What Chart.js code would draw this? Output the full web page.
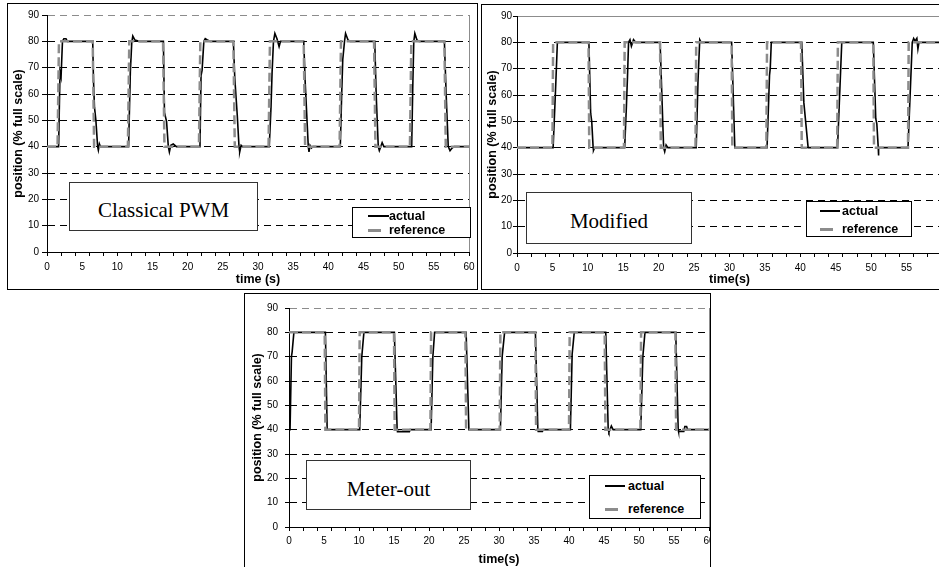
<!DOCTYPE html>
<html>
<head>
<meta charset="utf-8">
<script src="https://cdn.jsdelivr.net/npm/chart.js@4.4.1/dist/chart.umd.min.js"></script>
<style>
  body { margin: 0; width: 939px; height: 567px; overflow: hidden; background: #fff; position: relative;
         font-family: "Liberation Sans", Arial, sans-serif; }
  .frame { position: absolute; border: 1.5px solid #000; box-sizing: border-box; background: #fff; z-index: 0; }
  canvas { position: absolute; z-index: 1; }
  .note { position: absolute; z-index: 2; box-sizing: border-box; border: 1.5px solid #333; background: #fff;
          font-family: "Liberation Serif", "Times New Roman", serif; font-size: 21px; color: #000;
          display: flex; align-items: center; justify-content: center; }
  .legend { position: absolute; z-index: 2; box-sizing: border-box; border: 1px solid #000; background: #fff;
            font-weight: bold; font-size: 12.5px; color: #000; }
  .legend span { position: absolute; transform: translateY(-50%); line-height: 1; white-space: nowrap; }
  .legend i { position: absolute; display: block; }
  .act { background: #000; height: 2px; }
  .ref { background: #8c8c8c; height: 2.5px; }
</style>
</head>
<body>
<div class="frame" style="left:7px;top:3px;width:471px;height:287px"></div>
<div class="frame" style="left:481px;top:4px;width:480px;height:286px"></div>
<div class="frame" style="left:244px;top:293px;width:467px;height:290px"></div>

<canvas id="chartPwm" width="468" height="284" style="left:9px;top:5px"></canvas>
<canvas id="chartMod" width="470" height="283" style="left:483px;top:7px"></canvas>
<canvas id="chartMtr" width="464" height="272" style="left:246px;top:295px"></canvas>

<div class="note" style="left:69px;top:182px;width:189px;height:49px;padding-top:8px">Classical PWM</div>
<div class="note" style="left:526px;top:192px;width:166px;height:52px;padding-top:7px">Modified</div>
<div class="note" style="left:306px;top:460px;width:165px;height:50px;padding-top:8px">Meter-out</div>

<div class="legend" style="left:352px;top:207px;width:119px;height:31px">
  <i class="act" style="left:15px;top:7px;width:21px"></i><span style="left:36px;top:8px">actual</span>
  <i class="ref" style="left:15px;top:21px;width:13px"></i><span style="left:36px;top:22px">reference</span>
</div>
<div class="legend" style="left:806px;top:201px;width:106px;height:36px">
  <i class="act" style="left:13px;top:8px;width:20px"></i><span style="left:35px;top:9px">actual</span>
  <i class="ref" style="left:13px;top:26px;width:13px"></i><span style="left:35px;top:27px">reference</span>
</div>
<div class="legend" style="left:589px;top:475px;width:112px;height:44px">
  <i class="act" style="left:15px;top:9px;width:20px"></i><span style="left:38px;top:10px">actual</span>
  <i class="ref" style="left:15px;top:32px;width:13px"></i><span style="left:38px;top:33px">reference</span>
</div>

<script>
// axis ticks
const timeLabels = [0, 5, 10, 15, 20, 25, 30, 35, 40, 45, 50, 55, 60];
const timeMinorTicks = [0, 2, 4, 6, 8, 10, 12, 14, 16, 18, 20, 22, 24, 26, 28, 30,
  32, 34, 36, 38, 40, 42, 44, 46, 48, 50, 52, 54, 56, 58, 60];
const positionTicks = [0, 10, 20, 30, 40, 50, 60, 70, 80, 90];

// Classical PWM
const pwmRefTime = [0, 1.5, 1.7, 6.5, 6.7, 11.5, 11.7, 16.5, 16.7, 21.6, 21.8, 26.5, 26.7,
  31.5, 31.7, 36.5, 36.7, 41.6, 41.8, 46.5, 46.7, 51.6, 51.8, 56.5, 56.7, 60];
const pwmRefPos = [40, 40, 80, 80, 40, 40, 80, 80, 40, 40, 80, 80, 40,
  40, 80, 80, 40, 40, 80, 80, 40, 40, 80, 80, 40, 40];
const pwmActTime = [0, 1.65, 1.85, 2.0, 2.2, 2.4, 2.7, 2.9, 6.5, 6.6, 6.75, 6.95, 7.2, 7.3, 7.45, 7.6,
  11.6, 11.85, 12.05, 12.2, 12.5, 13.1, 16.55, 16.7, 17.0, 17.25, 17.4, 17.6, 17.95, 18.4,
  21.75, 21.9, 22.05, 22.3, 22.5, 22.8, 23.2, 26.5, 26.7, 27.05, 27.3, 27.4, 27.6, 27.8,
  31.6, 31.85, 32.0, 32.2, 32.4, 32.7, 33.0, 33.2, 36.5, 36.7, 37.15, 37.25, 37.4, 37.6, 37.8,
  41.7, 41.9, 42.05, 42.3, 42.45, 42.8, 43.1, 46.6, 46.8, 47.1, 47.25, 47.45, 47.65, 47.9,
  51.85, 52.0, 52.15, 52.3, 52.6, 52.9, 56.5, 56.75, 57.05, 57.3, 57.6, 57.9, 60];
const pwmActPos = [40, 40, 68.5, 66.5, 80, 81, 81, 80, 80, 66, 55, 50, 40, 38.7, 41, 40,
  40, 68.5, 79.5, 82, 80.5, 80, 80, 53, 49.5, 40, 38, 40.5, 41, 40,
  40, 67, 69, 80, 81, 80.5, 80, 80, 66, 52, 40, 38, 40.5, 40,
  40, 55, 68, 80, 83, 81, 78, 80, 80, 65, 40, 38, 40.5, 39.5, 40,
  40, 60, 73, 80, 83, 80.5, 80, 80, 60, 40, 38.5, 40, 41.5, 40,
  40, 62, 80, 83, 80.5, 80, 80, 60, 40, 38.5, 39.5, 40, 40];

// Modified
const modRefTime = [0, 5.0, 5.1, 10.1, 10.2, 15.1, 15.2, 20.2, 20.3, 25.2, 25.3, 30.3, 30.4,
  35.2, 35.3, 40.1, 40.2, 45.2, 45.3, 50.3, 50.4, 55.2, 55.3, 60];
const modRefPos = [40, 40, 80, 80, 40, 40, 80, 80, 40, 40, 80, 80, 40,
  40, 80, 80, 40, 40, 80, 80, 40, 40, 80, 80];
const modActTime = [0, 5.1, 5.35, 5.5, 5.7, 10.15, 10.4, 10.55, 10.75, 10.8, 10.95,
  15.2, 15.45, 15.6, 15.75, 15.95, 16.15, 16.45, 16.75, 20.2, 20.45, 20.7, 20.85, 21.05, 21.3,
  25.3, 25.55, 25.8, 26.0, 30.3, 30.75,
  35.3, 35.65, 35.75, 35.9, 40.2, 40.5, 41.1,
  45.25, 45.85, 50.3, 50.65, 50.8, 51.0, 51.02, 51.08,
  55.2, 55.8, 56.0, 56.2, 56.45, 56.6, 56.75, 60];
const modActPos = [40, 40, 56, 66, 80, 80, 53, 50, 40, 39, 40,
  40, 56, 67, 80, 81, 78.5, 81, 80, 80, 60, 40, 38.5, 41, 40,
  40, 65, 81, 80, 80, 40,
  40, 67.5, 70, 80, 80, 57, 40,
  40, 80, 80, 51, 49, 40, 37, 40,
  40, 80, 81.5, 80.5, 81.5, 77.5, 80, 80];

// Meter-out
const mtrRefTime = [0, 5.1, 5.2, 10.0, 10.1, 15.0, 15.1, 20.2, 20.3, 25.2, 25.3, 30.1, 30.2,
  35.2, 35.3, 40.0, 40.1, 45.1, 45.2, 50.2, 50.3, 55.2, 55.3, 60];
const mtrRefPos = [80, 80, 40, 40, 80, 80, 40, 40, 80, 80, 40, 40, 80,
  80, 40, 40, 80, 80, 40, 40, 80, 80, 40, 40];
const mtrActTime = [0, 0.15, 0.35, 0.45, 0.7, 5.2, 5.45, 10.1, 10.4, 10.7, 15.05, 15.45, 15.5, 17.2, 17.3,
  20.3, 20.55, 20.8, 25.3, 25.7, 30.2, 30.45, 30.8, 35.2, 35.55, 35.6, 36.2, 36.3,
  40.2, 40.45, 40.75, 45.25, 45.6, 45.7, 45.85, 46.05, 46.3,
  50.25, 50.55, 50.85, 55.25, 55.6, 55.65, 56.4, 56.55, 56.8, 56.95, 60];
const mtrActPos = [40, 40, 70, 72, 80, 80, 40, 40, 70, 80, 80, 40, 39.2, 39.2, 40,
  40, 70, 80, 80, 40, 40, 70, 80, 80, 40, 39.3, 39.3, 40,
  40, 71, 80, 80, 40, 39, 40, 41.5, 40,
  40, 70, 80, 80, 40, 39.3, 39.3, 41.3, 41.3, 40, 40];

const FONT = '"Liberation Sans", Arial, sans-serif';
const tickFont = {family: FONT, size: 10};
const titleFont = {family: FONT, size: 12.5, weight: 'bold'};
const allTimeTicks = [...new Set([...timeMinorTicks, ...timeLabels])].sort((a, b) => a - b);

// thin grey edge on the right side of the plot area
const plotEdge = {
  id: 'plotEdge',
  afterDatasetsDraw(chart) {
    const {ctx, chartArea} = chart;
    const x = Math.round(chartArea.right) + 0.5;
    ctx.save();
    ctx.strokeStyle = '#8c8c8c';
    ctx.lineWidth = 1;
    ctx.beginPath();
    ctx.moveTo(x, chartArea.top);
    ctx.lineTo(x, chartArea.bottom);
    ctx.stroke();
    ctx.restore();
  }
};

function points(ts, ys) {
  return ts.map((t, i) => ({x: t, y: ys[i]}));
}

function drawChart(id, c) {
  new Chart(document.getElementById(id), {
    type: 'line',
    data: {
      datasets: [
        {
          label: 'reference',
          data: points(c.refT, c.refY),
          borderColor: '#8c8c8c',
          borderWidth: 2.5,
          borderDash: [9, 4],
          pointRadius: 0,
          tension: 0,
          order: 0,
        },
        {
          label: 'actual',
          data: points(c.actT, c.actY),
          borderColor: '#000',
          borderWidth: 1.6,
          pointRadius: 0,
          tension: 0,
          order: 1,
        },
      ]
    },
    options: {
      responsive: false,
      animation: false,
      events: [],
      layout: {padding: c.pad},
      plugins: {legend: {display: false}, tooltip: {enabled: false}},
      scales: {
        x: {
          type: 'linear',
          min: 0,
          max: 60,
          afterBuildTicks: s => { s.ticks = allTimeTicks.map(v => ({value: v})); },
          afterFit: s => { s.height = c.xH; s.paddingLeft = 0; s.paddingRight = 0; },
          ticks: {
            autoSkip: false, maxRotation: 0, padding: c.xTickPad, color: '#000', font: tickFont,
            callback: v => (timeLabels.includes(v) && v <= c.lastLabel) ? String(v) : ''
          },
          grid: {
            drawOnChartArea: false,
            tickLength: 4,
            tickWidth: 1,
            tickColor: ctx => (ctx.tick && timeMinorTicks.includes(ctx.tick.value)) ? '#000' : 'rgba(0,0,0,0)'
          },
          border: {color: '#000', width: 1},
          title: {display: true, text: c.xTitle, color: '#000', font: titleFont,
                  padding: {top: 0, bottom: c.xTitlePad}}
        },
        y: {
          min: 0,
          max: 90,
          afterBuildTicks: s => { s.ticks = positionTicks.map(v => ({value: v})); },
          afterFit: s => { s.width = c.yW; },
          ticks: {padding: c.yTickPad, color: '#000', font: tickFont},
          grid: {
            lineWidth: 1,
            color: ctx => {
              if (!ctx.tick || ctx.tick.value === 0) return 'rgba(0,0,0,0)';
              return ctx.tick.value === 90 ? '#8c8c8c' : '#000';
            },
            tickLength: c.yTickLen,
            tickColor: '#000',
            tickBorderDash: []
          },
          border: {
            color: '#000', width: 1,
            dash: ctx => (ctx.tick && ctx.tick.value === 90 && c.solidTop) ? [] : [7, 5]
          },
          title: {display: true, text: 'position (% full scale)', color: '#000', font: titleFont,
                  padding: {top: c.yTitlePad, bottom: 0}}
        }
      }
    },
    plugins: [plotEdge]
  });
}

drawChart('chartPwm', {
  refT: pwmRefTime, refY: pwmRefPos, actT: pwmActTime, actY: pwmActPos,
  pad: {top: 10, right: 8, left: 0, bottom: 0},
  xH: 37, yW: 38, xTickPad: 5.5, yTickPad: 3, yTickLen: 5, lastLabel: 60,
  xTitle: 'time (s)', xTitlePad: 2.2, yTitlePad: 2.5, solidTop: false
});
drawChart('chartMod', {
  refT: modRefTime, refY: modRefPos, actT: modActTime, actY: modActPos,
  pad: {top: 9, right: 11, left: 0, bottom: 0},
  xH: 37, yW: 34, xTickPad: 5.3, yTickPad: 1, yTickLen: 4, lastLabel: 55,
  xTitle: 'time(s)', xTitlePad: 2.5, yTitlePad: 2.5, solidTop: true
});
drawChart('chartMtr', {
  refT: mtrRefTime, refY: mtrRefPos, actT: mtrActTime, actY: mtrActPos,
  pad: {top: 9, right: 1, left: 0, bottom: 0},
  xH: 40, yW: 43, xTickPad: 4.7, yTickPad: 7, yTickLen: 4, lastLabel: 60,
  xTitle: 'time(s)', xTitlePad: 0, yTitlePad: 4.5, solidTop: false
});
</script>
</body>
</html>
